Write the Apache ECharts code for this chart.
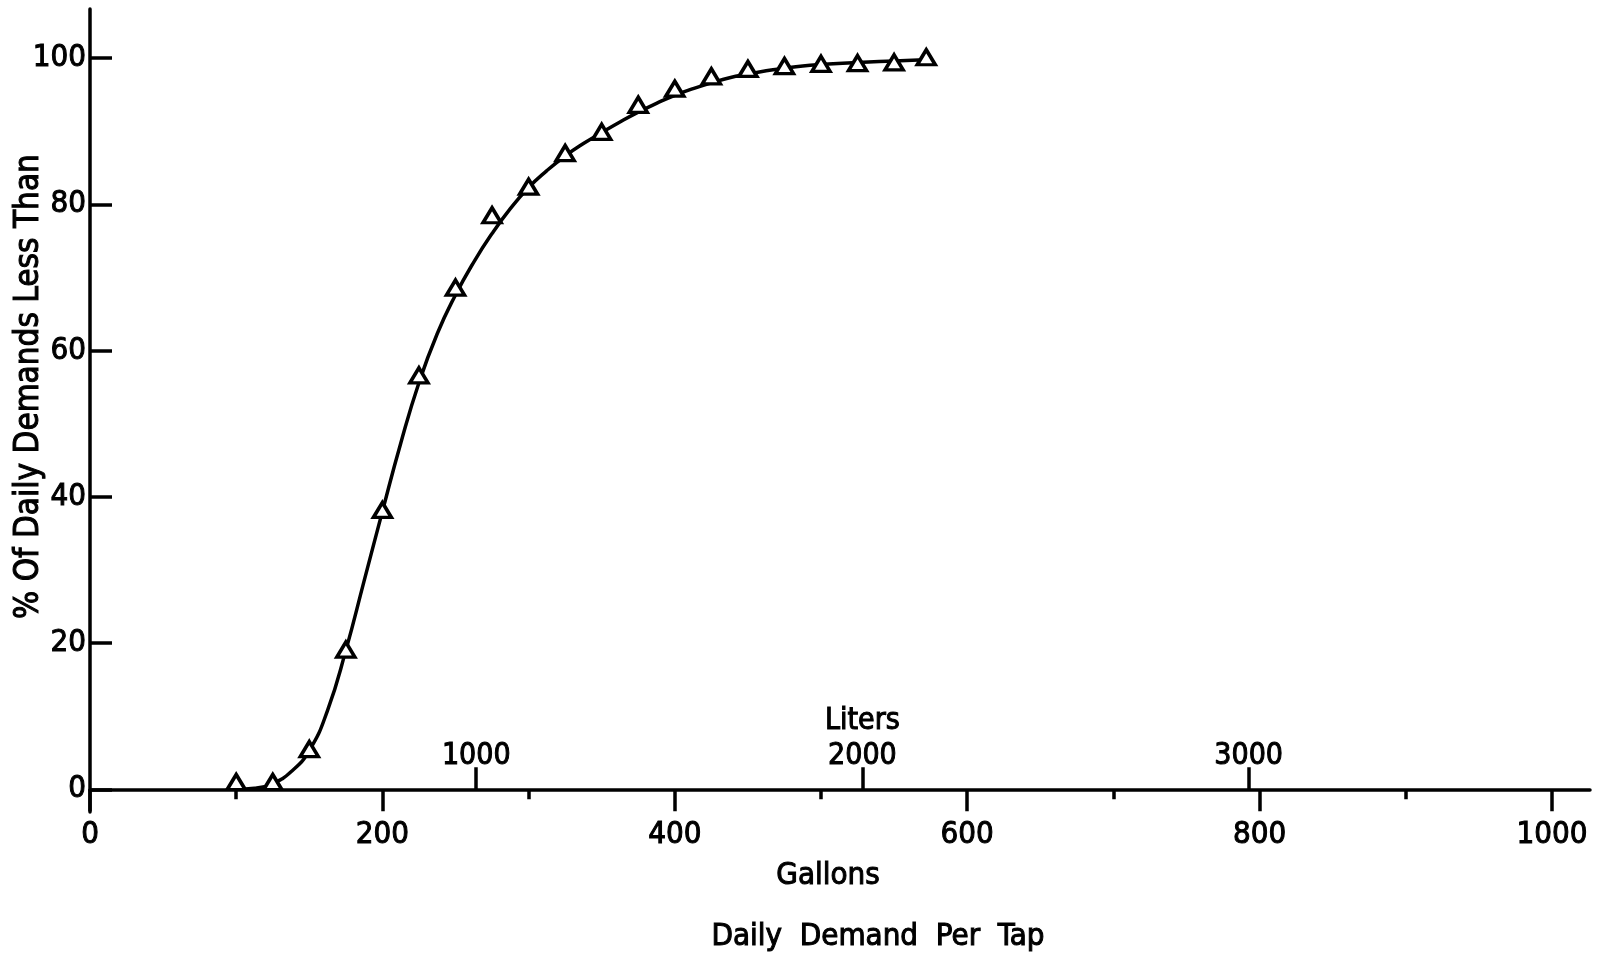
<!DOCTYPE html>
<html>
<head>
<meta charset="utf-8">
<title>Daily Demand Per Tap</title>
<script src="https://cdn.jsdelivr.net/npm/echarts@6/dist/echarts.min.js"></script>
<style>
  html, body { margin: 0; padding: 0; background: #ffffff; }
  #chart { width: 1602px; height: 957px; }
</style>
</head>
<body>
<div id="chart"></div>
<script>
// Cumulative distribution of daily water demand per tap.
const gallonTicks = [0, 200, 400, 600, 800, 1000];
const gallonMinorTicks = [100, 300, 500, 700, 900];
const literTicks = [1000, 2000, 3000];
const percentTicks = [0, 20, 40, 60, 80, 100];

// Observed points (triangles)
const obsGallons = [100, 125, 150, 175, 200, 225, 250, 275, 300, 325, 350, 375, 400, 425, 450, 475, 500, 525, 550, 572];
const obsPercent = [1.0, 1.0, 5.5, 19.1, 38.2, 56.6, 68.6, 78.5, 82.4, 87.0, 89.9, 93.6, 95.8, 97.5, 98.5, 98.9, 99.2, 99.3, 99.4, 100.1];

// Fitted smooth curve
const fitGallons = [100, 112.5, 125, 137.5, 150, 162.5, 175, 187.5, 200, 212.5, 225, 237.5, 250, 262.5, 275, 287.5,
  300, 312.5, 325, 337.5, 350, 362.5, 375, 387.5, 400, 412.5, 425, 437.5, 450, 462.5, 475, 487.5, 500, 525, 550, 575];
const fitPercent = [0, 0.15, 0.8, 2.4, 5.3, 10.8, 19, 28.5, 38, 47.3, 55.6, 62.3, 67.6, 72.1, 76, 79.4,
  82.3, 84.6, 86.6, 88.3, 89.8, 91.25, 92.6, 93.8, 94.9, 95.8, 96.6, 97.3, 97.8, 98.25, 98.6, 98.9, 99.1, 99.4, 99.6, 99.8];

const LITERS_PER_GALLON = 3.785411784;
const GALLON_MAX = 1026;
const PERCENT_MIN = -3.1;
const PERCENT_MAX = 106.7;

const FONT = "'DejaVu Sans Condensed', 'DejaVu Sans', sans-serif";
const INK = '#000000';
const AXIS_W = 3.5;
const INK_TEXT = { color: INK, fontFamily: FONT, textBorderColor: INK, textBorderWidth: 1 };

const zip = (xs, ys) => xs.map((x, i) => [x, ys[i]]);
const plain = (v) => String(v);

const chart = echarts.init(document.getElementById('chart'), null, { renderer: 'canvas' });

chart.setOption({
  backgroundColor: '#ffffff',
  animation: false,
  grid: { left: 90, right: 12, top: 9, bottom: 145, containLabel: false, outerBoundsMode: 'none' },
  xAxis: [
    {
      // Gallons scale with major ticks and labels
      type: 'value', position: 'bottom', min: 0, max: GALLON_MAX,
      axisLine: { onZero: true, onZeroAxisIndex: 0, lineStyle: { color: INK, width: AXIS_W } },
      axisTick: { show: true, customValues: gallonTicks, length: 22, lineStyle: { color: INK, width: AXIS_W } },
      axisLabel: Object.assign({ customValues: gallonTicks, margin: 7, fontSize: 31, formatter: plain }, INK_TEXT),
      splitLine: { show: false },
      name: 'Gallons', nameLocation: 'middle', nameGap: 48, nameMoveOverlap: false,
      nameTextStyle: Object.assign({ fontSize: 31, padding: [0, 24, 0, 0] }, INK_TEXT)
    },
    {
      // Gallons minor ticks
      type: 'value', position: 'bottom', min: 0, max: GALLON_MAX,
      axisLine: { show: false, onZero: true, onZeroAxisIndex: 0 },
      axisTick: { show: true, customValues: gallonMinorTicks, length: 10, lineStyle: { color: INK, width: AXIS_W } },
      axisLabel: { show: false },
      splitLine: { show: false }
    },
    {
      // Liters scale, ticks pointing up
      type: 'value', position: 'bottom', min: 0, max: GALLON_MAX * LITERS_PER_GALLON,
      axisLine: { show: false, onZero: true, onZeroAxisIndex: 0 },
      axisTick: { show: true, inside: true, customValues: literTicks, length: 22, lineStyle: { color: INK, width: AXIS_W } },
      axisLabel: Object.assign({
        inside: true, customValues: literTicks, margin: 38, fontSize: 30, lineHeight: 35,
        formatter: (v) => (v === 2000 ? 'Liters\n' + v : String(v))
      }, INK_TEXT),
      splitLine: { show: false }
    }
  ],
  yAxis: {
    type: 'value', min: PERCENT_MIN, max: PERCENT_MAX,
    axisLine: { show: true, onZero: false, lineStyle: { color: INK, width: AXIS_W } },
    axisTick: { show: true, inside: true, customValues: percentTicks, length: 22, lineStyle: { color: INK, width: AXIS_W } },
    axisLabel: Object.assign({ customValues: percentTicks, margin: 4, fontSize: 31, formatter: plain }, INK_TEXT),
    splitLine: { show: false },
    name: '% Of Daily Demands Less Than', nameLocation: 'middle', nameGap: 44, nameMoveOverlap: false,
    nameTextStyle: Object.assign({ fontSize: 33, padding: [0, 0, 0, 48] }, INK_TEXT)
  },
  series: [
    {
      name: 'fit', type: 'line', xAxisIndex: 0, yAxisIndex: 0,
      data: zip(fitGallons, fitPercent),
      smooth: 0.5, showSymbol: false, symbol: 'none',
      lineStyle: { color: INK, width: 3.5 }, z: 2, silent: true
    },
    {
      name: 'observed', type: 'scatter', xAxisIndex: 0, yAxisIndex: 0,
      data: zip(obsGallons, obsPercent),
      symbol: 'triangle', symbolSize: [18, 15],
      itemStyle: { color: '#ffffff', borderColor: INK, borderWidth: 3.5, opacity: 1 }, z: 3
    }
  ],
  graphic: [
    {
      type: 'text', x: 878, y: 937,
      style: {
        text: 'Daily  Demand  Per  Tap', fill: INK, font: '31px ' + FONT,
        stroke: INK, lineWidth: 1,
        textAlign: 'center', textVerticalAlign: 'middle'
      }
    }
  ]
});
</script>
</body>
</html>
